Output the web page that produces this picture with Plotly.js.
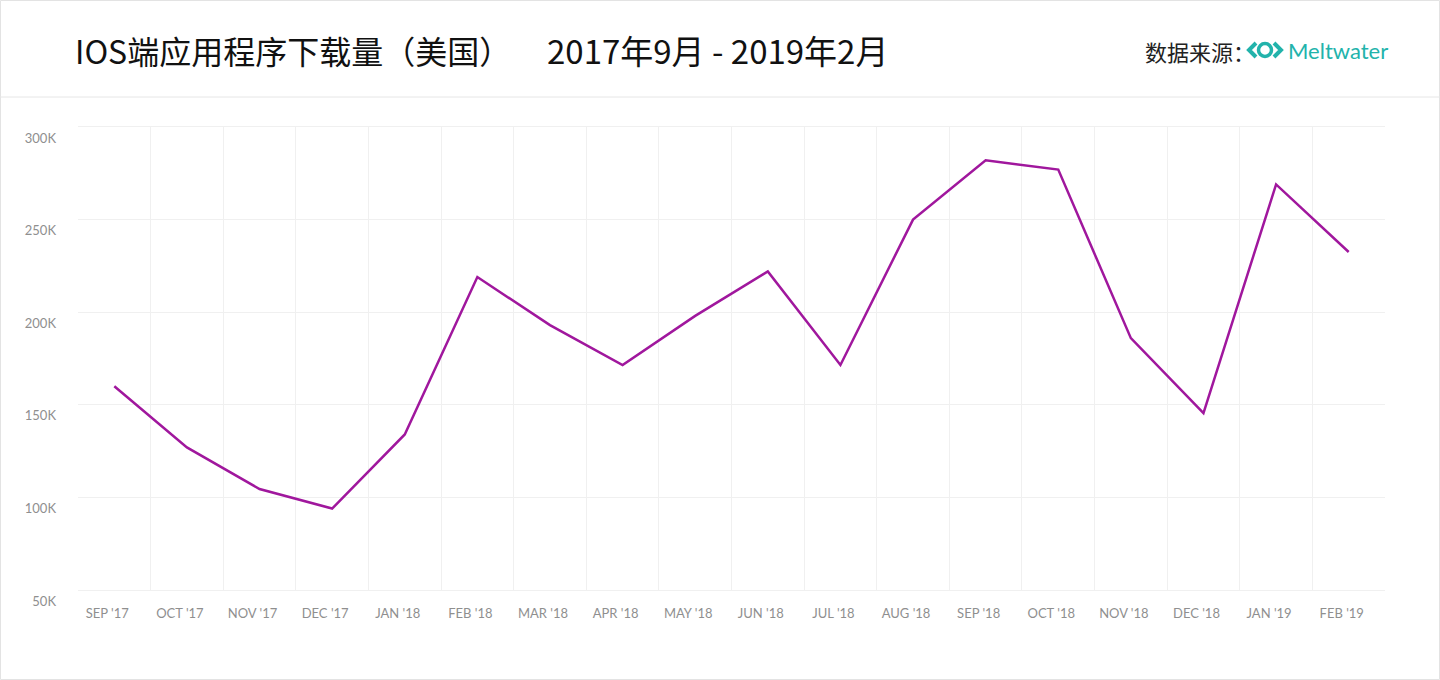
<!DOCTYPE html>
<html>
<head>
<meta charset="utf-8">
<script src="https://cdn.plot.ly/plotly-3.0.1.min.js"></script>
<style>
html,body{margin:0;padding:0;background:#fff;}
#chart{width:1440px;height:680px;}
</style>
</head>
<body>
<div id="chart"></div>
<script>
// ---- data ----
const months = ["SEP '17","OCT '17","NOV '17","DEC '17","JAN '18","FEB '18","MAR '18","APR '18","MAY '18","JUN '18","JUL '18","AUG '18","SEP '18","OCT '18","NOV '18","DEC '18","JAN '19","FEB '19"];
const downloads = [160000,127000,104500,94000,134000,219000,193000,171500,198000,222000,171500,250000,282000,277000,186000,145500,269000,232500];
const yTickVals = [50000,100000,150000,200000,250000,300000];
const yTickText = ["50K","100K","150K","200K","250K","300K"];
const titleMain = "IOS端应用程序下载量（美国）";
const titleDate = "2017年9月 - 2019年2月";
const sourceLabel = "数据来源：";
const brand = "Meltwater";

// ---- layout helpers (pixel -> paper) ----
const W = 1440, H = 680;
const M = {l:78, r:55, t:127, b:90};
const PW = W - M.l - M.r, PH = H - M.t - M.b;
const px = X => (X - M.l) / PW;
const py = Y => (H - M.b - Y) / PH;
const teal = "#22b3ab";

const shapes = [
  // card border
  {type:"rect", xref:"paper", yref:"paper", x0:px(0.5), x1:px(W-0.5), y0:py(0.5), y1:py(H-0.5),
   line:{color:"#e3e3e3", width:1}, layer:"below"},
  // header separator
  {type:"line", xref:"paper", yref:"paper", x0:px(0), x1:px(W), y0:py(97), y1:py(97),
   line:{color:"#e6e6e6", width:1}},
  // logo: chevrons and ring
  {type:"path", xref:"paper", yref:"paper",
   path:`M ${px(1256)} ${py(43)} L ${px(1249)} ${py(50)} L ${px(1256)} ${py(57)}`,
   line:{color:teal, width:4}},
  {type:"circle", xref:"paper", yref:"paper", x0:px(1258.5), x1:px(1271.5), y0:py(43.5), y1:py(56.5),
   line:{color:teal, width:3.5}},
  {type:"path", xref:"paper", yref:"paper",
   path:`M ${px(1274)} ${py(43)} L ${px(1281)} ${py(50)} L ${px(1274)} ${py(57)}`,
   line:{color:teal, width:4}}
];

const cjk = '"Noto Sans CJK SC", "Noto Sans", sans-serif';
const annotations = [
  {text:titleMain, xref:"paper", yref:"paper", x:px(73), y:py(50), xanchor:"left", yanchor:"middle",
   showarrow:false, font:{family:cjk, size:32, color:"#111"}},
  {text:titleDate, xref:"paper", yref:"paper", x:px(545), y:py(50), xanchor:"left", yanchor:"middle",
   showarrow:false, font:{family:cjk, size:33, color:"#111"}},
  {text:sourceLabel, xref:"paper", yref:"paper", x:px(1143), y:py(51), xanchor:"left", yanchor:"middle",
   showarrow:false, font:{family:cjk, size:22, color:"#222"}},
  {text:brand, xref:"paper", yref:"paper", x:px(1286), y:py(50), xanchor:"left", yanchor:"middle",
   showarrow:false, font:{family:'Lato, "Open Sans", sans-serif', size:22, color:teal}}
];

const trace = {
  type:"scatter", mode:"lines", x:months, y:downloads,
  line:{color:"#a0179d", width:2.5},
  hoverinfo:"x+y"
};

const layout = {
  width:W, height:H,
  margin:M,
  paper_bgcolor:"#fff", plot_bgcolor:"#fff",
  showlegend:false,
  font:{family:'Lato, "Open Sans", sans-serif', color:"#888"},
  xaxis:{
    type:"category", range:[-0.5, months.length-0.5],
    tickson:"boundaries", ticks:"", showgrid:true, gridcolor:"#f0f0f0", gridwidth:1,
    showline:true, linecolor:"#f0f0f0", mirror:true,
    tickfont:{size:13, color:"#8f8f8f"}, ticklabelstandoff:11, ticklabelshift:-7, fixedrange:true
  },
  yaxis:{
    range:[50000,300000], tickvals:yTickVals, ticktext:yTickText,
    showgrid:true, gridcolor:"#f0f0f0", zeroline:false,
    showline:false, ticks:"", ticklabelstandoff:21, ticklabelshift:11,
    tickfont:{size:13, color:"#8f8f8f"}, fixedrange:true
  },
  shapes:shapes,
  annotations:annotations
};

Plotly.newPlot("chart", [trace], layout, {displayModeBar:false});
</script>
</body>
</html>
